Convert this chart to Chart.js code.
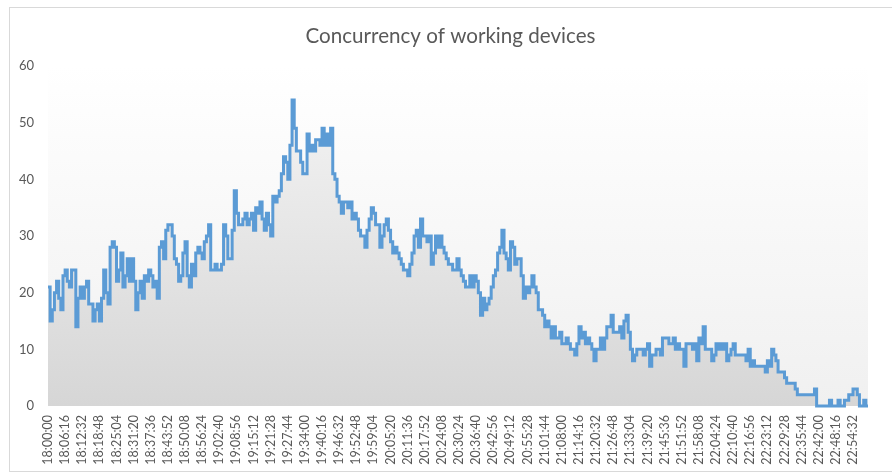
<!DOCTYPE html>
<html>
<head>
<meta charset="utf-8">
<title>Concurrency of working devices</title>
<script src="https://cdn.jsdelivr.net/npm/chart.js@4.4.1/dist/chart.umd.min.js"></script>
<style>
  html, body { margin: 0; padding: 0; background: #fff; }
  #wrap { width: 892px; height: 475px; position: relative; }
</style>
</head>
<body>
<div id="wrap"><canvas id="deviceChart"></canvas></div>
<script>
// one sample every 47 s, a tick label every 8th sample (6m16s)
const tickLabels = [
  '18:00:00', '18:06:16', '18:12:32', '18:18:48', '18:25:04', '18:31:20', '18:37:36', '18:43:52',
  '18:50:08', '18:56:24', '19:02:40', '19:08:56', '19:15:12', '19:21:28', '19:27:44', '19:34:00',
  '19:40:16', '19:46:32', '19:52:48', '19:59:04', '20:05:20', '20:11:36', '20:17:52', '20:24:08',
  '20:30:24', '20:36:40', '20:42:56', '20:49:12', '20:55:28', '21:01:44', '21:08:00', '21:14:16',
  '21:20:32', '21:26:48', '21:33:04', '21:39:20', '21:45:36', '21:51:52', '21:58:08', '22:04:24',
  '22:10:40', '22:16:56', '22:23:12', '22:29:28', '22:35:44', '22:42:00', '22:48:16', '22:54:32'
];
const SAMPLES_PER_TICK = 8;

const devices = [
  21, 15, 17, 20, 22, 19, 17, 23, 24, 22, 21, 24, 24, 14, 19, 21,
  19, 21, 22, 18, 18, 15, 17, 18, 15, 19, 24, 20, 18, 28, 29, 28,
  22, 24, 27, 21, 23, 26, 22, 26, 22, 17, 20, 22, 19, 23, 22, 24,
  23, 21, 22, 19, 28, 29, 26, 31, 32, 32, 30, 26, 25, 22, 23, 27,
  29, 23, 21, 25, 23, 27, 28, 27, 26, 29, 30, 32, 24, 24, 25, 24,
  24, 25, 32, 30, 26, 26, 31, 38, 34, 32, 32, 33, 34, 32, 33, 34,
  31, 35, 34, 36, 33, 31, 34, 32, 30, 37, 36, 37, 38, 41, 44, 43,
  40, 46, 54, 49, 45, 45, 43, 41, 41, 48, 45, 46, 45, 47, 47, 46,
  49, 46, 48, 46, 49, 41, 40, 37, 36, 34, 36, 36, 35, 36, 33, 34,
  33, 31, 30, 30, 28, 31, 33, 35, 34, 32, 32, 28, 30, 32, 33, 31,
  29, 27, 28, 27, 26, 25, 24, 24, 23, 25, 27, 30, 31, 28, 33, 30,
  30, 29, 30, 25, 27, 30, 28, 30, 28, 27, 26, 25, 25, 24, 24, 26,
  24, 23, 22, 21, 21, 23, 21, 23, 22, 20, 16, 19, 17, 18, 19, 21,
  23, 24, 27, 28, 31, 27, 26, 24, 29, 28, 25, 26, 26, 23, 19, 21,
  20, 21, 23, 21, 20, 17, 17, 16, 14, 15, 14, 12, 14, 12, 12, 13,
  11, 11, 12, 11, 10, 10,  9, 11, 14, 12, 13, 11, 12, 11, 10,  8,
  10, 10, 12, 10, 12, 14, 14, 16, 13, 13, 13, 14, 12, 15, 16, 13,
  10,  8,  9, 10, 10, 10,  9, 10, 11,  7,  9,  9, 10, 10,  9, 12,
  12, 12, 11, 11, 12, 10, 11, 10, 10,  7, 11, 11, 11, 10, 11,  8,
  12, 11, 14, 10, 10, 10,  8,  9, 11, 10, 11, 10, 11,  8,  9, 10,
  11,  9,  9,  9,  9,  9,  8, 10,  7,  8,  7,  7,  7,  7,  7,  6,
   8,  7, 10,  9,  8,  6,  6,  6,  5,  4,  4,  4,  4,  3,  2,  2,
   2,  2,  2,  2,  2,  2,  3,  0,  0,  0,  0,  0,  0,  1,  0,  0,
   0,  1,  0,  0,  1,  1,  2,  2,  3,  3,  2,  0,  0,  1,  0,  0
];

const labels = devices.map((_, i) => i % SAMPLES_PER_TICK === 0 ? (tickLabels[i / SAMPLES_PER_TICK] || '') : '');

const TEXT = '#595959';
const FONT = 'Lato, "Open Sans", sans-serif';

// chart frame + soft plot background, like the spreadsheet original
const plotBackground = {
  id: 'plotBackground',
  beforeDraw(chart) {
    const { ctx, chartArea: a } = chart;
    ctx.save();
    ctx.strokeStyle = '#d9d9d9';
    ctx.lineWidth = 1;
    ctx.strokeRect(9.5, 7.5, 900, 464);
    const g = ctx.createLinearGradient(0, a.top, 0, a.bottom);
    g.addColorStop(0, '#ffffff');
    g.addColorStop(1, '#f0f0f0');
    ctx.fillStyle = g;
    ctx.fillRect(a.left, a.top, a.right - a.left, a.bottom - a.top);
    ctx.restore();
  }
};

function areaFill(context) {
  const { ctx, chartArea } = context.chart;
  if (!chartArea) return 'rgba(217,217,217,0.8)';
  const g = ctx.createLinearGradient(0, chartArea.top, 0, chartArea.bottom);
  g.addColorStop(0, '#f6f6f6');
  g.addColorStop(1, '#d6d6d6');
  return g;
}

new Chart(document.getElementById('deviceChart'), {
  type: 'line',
  data: {
    labels,
    datasets: [{
      label: 'Concurrency',
      data: devices,
      borderColor: '#5b9bd5',
      borderWidth: 3,
      pointRadius: 0,
      stepped: true,
      fill: 'origin',
      backgroundColor: areaFill,
      clip: 4
    }]
  },
  options: {
    responsive: true,
    maintainAspectRatio: false,
    animation: false,
    layout: { padding: { left: 18, right: 9, top: 0, bottom: 0 } },
    plugins: {
      legend: { display: false },
      tooltip: { enabled: false },
      title: {
        display: true,
        text: 'Concurrency of working devices',
        color: TEXT,
        font: { family: FONT, size: 20.6, weight: 'normal' },
        padding: { top: 24, bottom: 17.3 }
      }
    },
    scales: {
      x: {
        grid: { display: false, drawTicks: false },
        border: { display: false },
        ticks: { autoSkip: false, maxRotation: 90, minRotation: 90, padding: 9, color: TEXT, font: { family: FONT, size: 12.5 } },
        afterFit: s => { s.height = 69; }
      },
      y: {
        min: 0, max: 60,
        grid: { display: false, drawTicks: false },
        border: { display: false },
        ticks: { stepSize: 10, padding: 14, color: TEXT, font: { family: FONT, size: 13 } },
        afterFit: s => { s.width = 30; }
      }
    }
  },
  plugins: [plotBackground]
});
</script>
</body>
</html>
